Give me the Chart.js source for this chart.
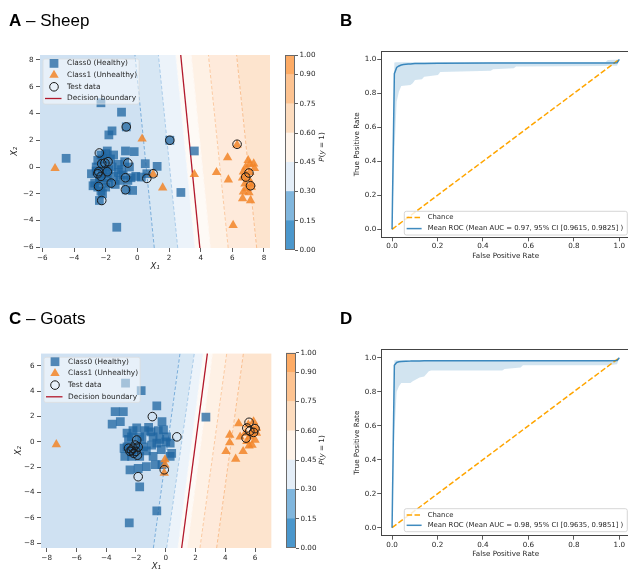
<!DOCTYPE html>
<html>
<head>
<meta charset="utf-8">
<title>Sheep and goats classifiers</title>
<script src="https://cdn.jsdelivr.net/npm/chart.js@4.4.1/dist/chart.umd.min.js"></script>
<style>
  html, body { margin: 0; padding: 0; }
  body { width: 628px; height: 570px; overflow: hidden; position: relative; background: #fff; }
  canvas { position: absolute; }
  .ptitle { position: absolute; font-family: 'Liberation Sans', Arial, sans-serif; font-size: 17px; line-height: 17px; color: #000; white-space: nowrap; }
  .cblabel { position: absolute; font-family: 'DejaVu Sans', sans-serif; font-size: 7.2px; color: #262626; white-space: nowrap; transform: translate(-50%, -50%) rotate(-90deg); }
</style>
</head>
<body>
<canvas id="sheepScatter" width="280" height="280" style="left:0;top:0"></canvas>
<canvas id="sheepColorbar" width="48" height="280" style="left:280px;top:0"></canvas>
<canvas id="sheepRoc" width="310" height="280" style="left:330px;top:0"></canvas>
<canvas id="goatScatter" width="280" height="290" style="left:0;top:290px"></canvas>
<canvas id="goatColorbar" width="48" height="290" style="left:280px;top:290px"></canvas>
<canvas id="goatRoc" width="310" height="280" style="left:330px;top:290px"></canvas>

<div class="ptitle" style="left:9px;top:12px"><b>A</b> – Sheep</div>
<div class="ptitle" style="left:340px;top:12px"><b>B</b></div>
<div class="ptitle" style="left:9px;top:310px"><b>C</b> – Goats</div>
<div class="ptitle" style="left:340px;top:310px"><b>D</b></div>
<div class="cblabel" style="left:321px;top:147px"><i>P</i>(<i>y</i> = 1)</div>
<div class="cblabel" style="left:321px;top:450px"><i>P</i>(<i>y</i> = 1)</div>

<script>
// probability levels of the filled contours and the colorbar
const colorbarTicks = [0, 0.15, 0.30, 0.45, 0.60, 0.75, 0.90, 1.00];
const colorbarColors = ['#4b97cc', '#80b6dd', '#e4eef8', '#fef3e9', '#fddcbe', '#fdc391', '#fdab65'];
const contourLevels = [0.15, 0.30, 0.45, 0.60, 0.75, 0.90];
const bandColors = ['#cfe1f2', '#d7e7f4', '#ecf3fa', '#fefaf6', '#fef1e5', '#feeadb', '#fde4ce'];
const contourLineColors = ['#7aaedb', '#a9cbe9', '#f1f6fb', '#fef5ee', '#fbcaa2', '#f9bf90'];

// sheep: contour lines as x at the top and bottom of the plot, decision boundary (top, bottom)
const sheepXRange = [-6.15, 8.38];
const sheepYRange = [-6.05, 8.37];
const sheepXTicks = [-6, -4, -2, 0, 2, 4, 6, 8];
const sheepYTicks = [-6, -4, -2, 0, 2, 4, 6, 8];
const sheepContourTop = [-0.15, 1.33, 2.41, 3.41, 4.49, 6.27];
const sheepContourBottom = [1.07, 2.55, 3.62, 4.62, 5.74, 7.54];
const sheepBoundary = [2.74, 3.95];

const sheepHealthy = [
  [-2.3, 4.8], [-1.0, 4.1], [-0.7, 3.0], [-1.6, 2.7], [-1.8, 2.4], [2.05, 2.0], [3.6, 1.2], [-4.5, 0.65],
  [2.75, -1.9], [-1.3, -4.5], [-0.3, -1.75], [1.25, 0.05], [0.5, 0.25], [-0.2, 1.15], [-0.75, 1.2], [-1.9, 1.2],
  [-2.0, 1.0], [-2.3, 0.9], [-2.5, 0.5], [-2.2, 0.6], [-1.7, 0.6], [-1.5, 0.9], [-1.2, 0.2], [-1.0, -0.2],
  [-0.8, 0.4], [-0.5, 0.0], [-0.4, -0.8], [-0.1, -0.7], [0.25, -0.75], [0.6, -0.5], [-0.6, -1.0], [-1.1, -1.0],
  [-1.5, -0.7], [-1.8, -0.2], [-2.0, -0.5], [-2.2, -0.2], [-2.4, -0.8], [-2.6, -0.3], [-2.7, -1.2], [-2.8, -1.4],
  [-2.5, -1.5], [-2.3, -1.8], [-2.2, -2.0], [-2.0, -1.5], [-1.8, -1.2], [-1.4, -1.3], [-2.4, -2.5], [-2.6, 0.0],
  [-2.3, -1.0], [-1.6, 0.0], [-2.9, -0.5], [-1.2, -0.4], [-0.9, -0.6], [-2.1, 0.1], [-1.9, -0.8], [-0.7, -1.7]
];
const sheepUnhealthy = [
  [-5.2, -0.1], [0.3, 2.1], [1.0, -0.55], [1.6, -1.55], [3.6, -0.55], [5.0, -0.4], [5.7, 0.7], [5.75, -0.95],
  [6.3, 1.65], [6.05, -4.35], [7.0, 0.5], [7.35, 0.25], [7.1, 0.2], [6.85, 0.0], [7.4, -0.1], [6.7, -0.35],
  [7.1, -0.4], [6.9, -0.6], [6.65, -0.8], [7.0, -0.9], [7.2, -1.25], [6.8, -1.25], [6.9, -1.6], [7.05, -1.9],
  [6.7, -1.85], [6.65, -2.35], [7.15, -2.5], [7.2, -1.5]
];
const sheepTest = [
  [-2.4, 1.05], [-2.25, 0.25], [-2.05, 0.3], [-1.85, 0.4], [-2.5, -0.5], [-2.3, -0.7], [-2.45, -0.35],
  [-1.9, -0.35], [-2.45, -1.45], [-1.65, -1.2], [-0.75, -0.8], [-0.6, 0.3], [-0.75, -1.7], [0.6, -0.85],
  [1.0, -0.5], [-0.7, 3.0], [2.05, 2.0], [-2.25, -2.5], [6.3, 1.7], [6.85, -0.75], [7.05, -0.45], [7.15, -1.4]
];

// goats
const goatXRange = [-8.38, 7.12];
const goatYRange = [-8.38, 7.0];
const goatXTicks = [-8, -6, -4, -2, 0, 2, 4, 6];
const goatYTicks = [-8, -6, -4, -2, 0, 2, 4, 6];
const goatContourTop = [0.96, 1.92, 2.5, 3.15, 4.1, 5.22];
const goatContourBottom = [-0.83, 0.06, 0.8, 1.45, 2.3, 3.42];
const goatBoundary = [2.8, 1.07];

const goatHealthy = [
  [-2.7, 4.65], [-1.65, 4.05], [-0.6, 2.85], [-3.4, 2.4], [-2.85, 2.4], [-3.05, 1.6], [-3.6, 1.4], [-0.25, 1.6],
  [2.7, 1.95], [-1.95, 1.1], [-1.15, 1.15], [-0.15, 0.95], [-2.6, 0.7], [-2.3, 0.4], [-1.75, 0.4], [-0.85, 0.4],
  [0.05, 0.4], [0.3, -0.1], [-0.6, -0.1], [-2.6, -0.4], [-1.5, -0.4], [-0.95, -0.25], [-2.3, -1.15], [-2.75, -1.15],
  [-1.75, -1.15], [-0.85, -1.15], [0.4, -0.9], [0.3, -1.15], [-0.25, -1.8], [-0.7, -1.8], [-1.3, -1.95], [-2.4, -2.2],
  [-1.85, -2.1], [-1.75, -3.55], [-0.6, -5.45], [-2.45, -6.4], [-2.5, 0.2], [-2.0, -0.3], [-2.3, -0.8], [-1.9, -0.6],
  [-1.0, 0.8], [-0.5, 0.9], [0.0, 0.0], [-0.3, -0.6], [-1.3, -0.7], [-2.8, -0.5], [-1.6, 0.2], [-2.2, 0.9],
  [-1.4, 0.9], [-0.4, 0.2]
];
const goatUnhealthy = [
  [-7.35, -0.2], [-0.05, -1.4], [-0.05, -1.8], [-0.1, -2.45], [4.9, 1.45], [4.3, 0.55], [4.3, -0.05], [4.05, -0.75],
  [4.7, -1.35], [5.2, -0.75], [5.0, 0.4], [5.55, 1.35], [5.9, 0.95], [6.1, 0.7], [5.65, 0.4], [5.45, 0.05],
  [6.0, 0.15], [5.8, -0.25], [6.1, 1.1], [5.35, 0.7], [5.9, 1.6], [5.6, -0.3], [5.75, 0.6]
];
const goatTest = [
  [-0.9, 2.0], [0.75, 0.4], [-1.95, 0.15], [-2.05, -0.25], [-1.85, -0.4], [-2.2, -0.5], [-2.3, -0.65], [-2.0, -0.75],
  [-1.9, -1.05], [-2.4, -0.75], [-2.5, -0.5], [-2.15, -0.9], [-1.85, -2.75], [-0.1, -2.2], [5.6, 1.55], [5.45, 1.1],
  [6.0, 1.05], [5.9, 0.75], [5.4, 0.3], [5.65, 0.85]
];

// ROC curves
const rocTicks = [0, 0.2, 0.4, 0.6, 0.8, 1.0];
const chanceFpr = [0, 1];
const chanceTpr = [0, 1];

const sheepFpr = [0, 0.0101, 0.0202, 0.0303, 0.0404, 0.0505, 0.0707, 0.0808, 0.0909, 0.101, 0.1313,
  0.1414, 0.202, 0.2121, 0.4343, 0.4444, 0.5354, 0.5455, 0.9394, 0.9495, 0.9899, 1.0];
const sheepTprMean = [0, 0.915, 0.952, 0.961, 0.966, 0.969, 0.972, 0.973, 0.974, 0.975, 0.976,
  0.976, 0.977, 0.977, 0.978, 0.978, 0.978, 0.978, 0.978, 0.978, 0.979, 1.0];
const sheepTprLow = [0, 0.45, 0.75, 0.81, 0.843, 0.845, 0.847, 0.849, 0.859, 0.878, 0.882,
  0.898, 0.908, 0.925, 0.933, 0.941, 0.947, 0.957, 0.96, 0.962, 0.962, 1.0];
const sheepTprHigh = [0, 0.981, 0.982, 0.983, 0.983, 0.983, 0.983, 0.983, 0.983, 0.983, 0.983,
  0.983, 0.983, 0.983, 0.983, 0.983, 0.983, 0.983, 0.983, 0.996, 0.997, 1.0];

const goatFpr = [0, 0.0101, 0.0202, 0.0303, 0.0404, 0.0808, 0.0909, 0.1212, 0.1414, 0.1616, 0.1717,
  0.4848, 0.4949, 0.5657, 0.5758, 0.9495, 0.9899, 1.0];
const goatTprMean = [0, 0.955, 0.972, 0.976, 0.978, 0.980, 0.981, 0.981, 0.982, 0.982, 0.982,
  0.982, 0.982, 0.982, 0.982, 0.982, 0.983, 1.0];
const goatTprLow = [0, 0.55, 0.80, 0.832, 0.851, 0.851, 0.861, 0.884, 0.89, 0.92, 0.924,
  0.924, 0.934, 0.943, 0.955, 0.955, 0.962, 1.0];
const goatTprHigh = [0, 0.985, 0.985, 0.985, 0.985, 0.985, 0.985, 0.985, 0.985, 0.985, 0.985,
  0.985, 0.985, 0.985, 0.985, 0.985, 0.99, 1.0];

const FONT = "'DejaVu Sans', sans-serif";
const TEXT = '#262626';
Chart.defaults.font.family = FONT;
Chart.defaults.font.size = 7.2;
Chart.defaults.color = TEXT;
Chart.defaults.animation = false;
Chart.defaults.events = [];
Chart.defaults.plugins.legend.display = false;
Chart.defaults.plugins.tooltip.enabled = false;

// outline around the plot area
const frame = {
  id: 'frame',
  afterDatasetsDraw(chart, args, opts) {
    if (!opts.color) return;
    const { ctx, chartArea: a } = chart;
    ctx.save();
    ctx.strokeStyle = opts.color;
    ctx.lineWidth = opts.width || 1;
    ctx.strokeRect(Math.round(a.left) + 0.5, Math.round(a.top) + 0.5,
      Math.round(a.right - a.left) - 1, Math.round(a.bottom - a.top) - 1);
    ctx.restore();
  }
};

// matplotlib style legend box inside the plot
const boxLegend = {
  id: 'boxLegend',
  afterDraw(chart, args, o) {
    if (!o.items) return;
    const { ctx, chartArea } = chart;
    const sets = chart.data.datasets;
    ctx.save();
    ctx.font = `${o.fontSize}px ${FONT}`;
    const textW = Math.max(...o.items.map(it => ctx.measureText(sets[it.index].label).width));
    const w = o.textX + textW + o.padRight;
    const h = o.padTop + o.rowHeight * (o.items.length - 1) + o.padBottom;
    const x = o.align === 'right' ? chartArea.right - o.dx - w : chartArea.left + o.dx;
    const y = o.valign === 'bottom' ? chartArea.bottom - o.dy - h : chartArea.top + o.dy;
    const r = 2;
    ctx.beginPath();
    ctx.moveTo(x + r, y);
    ctx.arcTo(x + w, y, x + w, y + h, r);
    ctx.arcTo(x + w, y + h, x, y + h, r);
    ctx.arcTo(x, y + h, x, y, r);
    ctx.arcTo(x, y, x + w, y, r);
    ctx.closePath();
    ctx.fillStyle = o.background;
    ctx.fill();
    ctx.strokeStyle = o.border;
    ctx.lineWidth = 0.8;
    ctx.stroke();
    o.items.forEach((it, i) => {
      const ds = sets[it.index];
      const cy = y + o.padTop + i * o.rowHeight;
      ctx.save();
      if (it.kind === 'line') {
        ctx.strokeStyle = ds.borderColor;
        ctx.lineWidth = ds.borderWidth;
        ctx.setLineDash(ds.borderDash || []);
        ctx.beginPath();
        ctx.moveTo(x + o.lineStart, cy);
        ctx.lineTo(x + o.lineEnd, cy);
        ctx.stroke();
      } else {
        ctx.fillStyle = ds.backgroundColor;
        ctx.strokeStyle = ds.borderColor || 'rgba(0,0,0,0)';
        ctx.lineWidth = ds.borderWidth || 0;
        Chart.helpers.drawPoint(ctx, { pointStyle: ds.pointStyle, radius: ds.pointRadius, borderWidth: ds.borderWidth || 0, rotation: 0 },
          x + o.markerX, cy);
      }
      ctx.restore();
      ctx.fillStyle = TEXT;
      ctx.textBaseline = 'middle';
      ctx.textAlign = 'left';
      ctx.fillText(ds.label, x + o.textX, cy);
    });
    ctx.restore();
  }
};

Chart.register(frame, boxLegend);

const fixSize = (w, h) => s => {
  if (w != null) s.width = w;
  if (h != null) s.height = h;
  s.paddingLeft = s.paddingRight = s.paddingTop = s.paddingBottom = 0;
};
const setTicks = values => s => { s.ticks = values.map(v => ({ value: v })); };
const minus = v => (v < 0 ? '\u2212' : '') + Math.abs(v);
const tickMarks = len => ({ drawOnChartArea: false, drawTicks: true, tickLength: len, color: '#333', lineWidth: 0.8 });
const toXY = pts => pts.map(p => ({ x: p[0], y: p[1] }));

function scatterChart(id, cfg) {
  const [xMin, xMax] = cfg.xRange;
  const [yMin, yMax] = cfg.yRange;
  // filled probability bands between the (straight) contour lines
  const bands = cfg.contourTop.map((xt, i) => ({
    type: 'line', indexAxis: 'y', label: 'P = ' + contourLevels[i].toFixed(2),
    data: [{ x: cfg.contourBottom[i], y: yMin }, { x: xt, y: yMax }],
    borderColor: contourLineColors[i], borderWidth: 1, borderDash: [3.5, 2],
    pointRadius: 0, backgroundColor: bandColors[i],
    fill: i === 0 ? { value: xMin } : '-1', order: 10
  }));
  const last = cfg.contourTop.length - 1;
  bands.push({
    type: 'line', indexAxis: 'y', label: 'P > 0.90',
    data: [{ x: cfg.contourBottom[last], y: yMin }, { x: cfg.contourTop[last], y: yMax }],
    borderColor: 'rgba(0,0,0,0)', borderWidth: 0, pointRadius: 0,
    backgroundColor: bandColors[last + 1], fill: { value: xMax }, order: 10
  });
  const n = bands.length;
  const datasets = bands.concat([
    { type: 'line', indexAxis: 'y', label: 'Decision boundary',
      data: [{ x: cfg.boundary[1], y: yMin }, { x: cfg.boundary[0], y: yMax }],
      borderColor: '#b2182b', borderWidth: 1.3, pointRadius: 0, fill: false, order: 5 },
    { type: 'scatter', label: 'Class0 (Healthy)', data: toXY(cfg.healthy), pointStyle: 'rect',
      pointRadius: 6.2, backgroundColor: 'rgba(30,100,160,0.75)', borderWidth: 0, order: 3 },
    { type: 'scatter', label: 'Class1 (Unhealthy)', data: toXY(cfg.unhealthy), pointStyle: 'triangle',
      pointRadius: 5.4, backgroundColor: 'rgba(242,133,40,0.85)', borderWidth: 0, order: 2 },
    { type: 'scatter', label: 'Test data', data: toXY(cfg.test), pointStyle: 'circle',
      pointRadius: 4.3, backgroundColor: 'rgba(0,0,0,0)', borderColor: '#1a1a1a', borderWidth: 1, order: 1 }
  ]);

  return new Chart(document.getElementById(id), {
    type: 'scatter',
    data: { datasets },
    options: {
      responsive: false,
      maintainAspectRatio: false,
      layout: { autoPadding: false, padding: cfg.padding },
      scales: {
        x: {
          type: 'linear', min: xMin, max: xMax,
          afterBuildTicks: setTicks(cfg.xTicks), afterFit: fixSize(null, cfg.xAxisHeight),
          ticks: { callback: minus, padding: 1.4, autoSkip: false, maxRotation: 0 },
          grid: tickMarks(4), border: { display: false },
          title: { display: true, text: 'X\u2081', font: { size: 8.5, style: 'italic' }, padding: { top: 0, bottom: 8.2 } }
        },
        y: {
          type: 'linear', min: yMin, max: yMax,
          afterBuildTicks: setTicks(cfg.yTicks), afterFit: fixSize(cfg.yAxisWidth, null),
          ticks: { callback: minus, padding: 2.5, autoSkip: false },
          grid: tickMarks(4), border: { display: false },
          title: { display: true, text: 'X\u2082', font: { size: 8.5, style: 'italic' }, padding: { top: cfg.yTitlePad, bottom: 0 } }
        }
      },
      plugins: {
        filler: { drawTime: 'beforeDatasetsDraw' },
        boxLegend: {
          items: [{ index: n + 1 }, { index: n + 2 }, { index: n + 3 }, { index: n, kind: 'line' }],
          fontSize: 7.4, dx: 3, dy: 4, padTop: 4.4, rowHeight: 11.7, padBottom: 5.6, padRight: 2,
          markerX: 11, textX: 24, lineStart: 2, lineEnd: 18.5,
          background: 'rgba(255,255,255,0.5)', border: 'rgba(220,220,220,0.9)'
        }
      }
    }
  });
}

function colorbarChart(id, cfg) {
  return new Chart(document.getElementById(id), {
    type: 'bar',
    data: {
      labels: [''],
      datasets: colorbarColors.map((c, i) => ({
        label: colorbarTicks[i].toFixed(2) + '–' + colorbarTicks[i + 1].toFixed(2),
        data: [[colorbarTicks[i], colorbarTicks[i + 1]]],
        backgroundColor: c, borderWidth: 0, barPercentage: 1, categoryPercentage: 1, grouped: false
      }))
    },
    options: {
      responsive: false,
      maintainAspectRatio: false,
      layout: { autoPadding: false, padding: cfg.padding },
      scales: {
        x: { display: false },
        y: {
          position: 'right', min: 0, max: 1,
          afterBuildTicks: setTicks(colorbarTicks), afterFit: fixSize(cfg.axisWidth, null),
          ticks: { callback: v => v.toFixed(2), padding: 1.5, autoSkip: false },
          grid: tickMarks(3), border: { display: false }
        }
      },
      plugins: { frame: { color: '#6a6a6a', width: 1 } }
    }
  });
}

function rocChart(id, cfg) {
  const pts = ys => cfg.fpr.map((x, i) => ({ x, y: ys[i] }));
  return new Chart(document.getElementById(id), {
    type: 'line',
    data: {
      datasets: [
        { label: 'lower', data: pts(cfg.low), borderColor: 'rgba(0,0,0,0)', borderWidth: 0, pointRadius: 0, fill: false, order: 3 },
        { label: '\u00b1 1 std. dev.', data: pts(cfg.high), borderColor: 'rgba(0,0,0,0)', borderWidth: 0, pointRadius: 0,
          fill: '-1', backgroundColor: 'rgba(31,119,180,0.2)', order: 3 },
        { label: 'Chance', data: chanceFpr.map((x, i) => ({ x, y: chanceTpr[i] })), borderColor: '#ffa500',
          borderWidth: 1.5, borderDash: [5.5, 2.4], pointRadius: 0, fill: false, order: 2 },
        { label: cfg.meanLabel, data: pts(cfg.mean), borderColor: 'rgba(31,119,180,0.85)', borderWidth: 1.5,
          pointRadius: 0, fill: false, order: 1 }
      ]
    },
    options: {
      responsive: false,
      maintainAspectRatio: false,
      layout: { autoPadding: false, padding: cfg.padding },
      scales: {
        x: {
          type: 'linear', min: -0.05, max: 1.05,
          afterBuildTicks: setTicks(rocTicks), afterFit: fixSize(null, cfg.xAxisHeight),
          ticks: { callback: v => v.toFixed(1), padding: 1, autoSkip: false, maxRotation: 0 },
          grid: tickMarks(3.5), border: { display: false },
          title: { display: true, text: 'False Positive Rate', padding: { top: 0, bottom: cfg.xTitlePad } }
        },
        y: {
          type: 'linear', min: -0.05, max: 1.05,
          afterBuildTicks: setTicks(rocTicks), afterFit: fixSize(50.7, null),
          ticks: { callback: v => v.toFixed(1), padding: 1, autoSkip: false },
          grid: tickMarks(3.5), border: { display: false },
          title: { display: true, text: 'True Positive Rate', padding: { top: 22.4, bottom: 0 } }
        }
      },
      plugins: {
        frame: { color: '#444', width: 1 },
        boxLegend: {
          items: [{ index: 2, kind: 'line' }, { index: 3, kind: 'line' }],
          align: 'right', valign: 'bottom', fontSize: 6.9, dx: 3.4, dy: cfg.legendDy,
          padTop: 6.3, rowHeight: cfg.legendRow, padBottom: 6.4, padRight: 4,
          markerX: 10, textX: 23.3, lineStart: 2.3, lineEnd: 17.3,
          background: 'rgba(255,255,255,0.8)', border: '#cccccc'
        }
      }
    }
  });
}

scatterChart('sheepScatter', {
  xRange: sheepXRange, yRange: sheepYRange, xTicks: sheepXTicks, yTicks: sheepYTicks,
  contourTop: sheepContourTop, contourBottom: sheepContourBottom, boundary: sheepBoundary,
  healthy: sheepHealthy, unhealthy: sheepUnhealthy, test: sheepTest,
  padding: { left: 0, top: 55, right: 10, bottom: 0 }, xAxisHeight: 32, yAxisWidth: 40, yTitlePad: 9.9
});
colorbarChart('sheepColorbar', { padding: { left: 5, top: 55, right: 0, bottom: 30 }, axisWidth: 33 });
rocChart('sheepRoc', {
  fpr: sheepFpr, mean: sheepTprMean, low: sheepTprLow, high: sheepTprHigh,
  meanLabel: 'Mean ROC (Mean AUC = 0.97, 95% CI [0.9615, 0.9825] )',
  padding: { left: 0, top: 50.8, right: 9.3, bottom: 0 }, xAxisHeight: 42.2, xTitlePad: 20,
  legendDy: 2.8, legendRow: 11
});

scatterChart('goatScatter', {
  xRange: goatXRange, yRange: goatYRange, xTicks: goatXTicks, yTicks: goatYTicks,
  contourTop: goatContourTop, contourBottom: goatContourBottom, boundary: goatBoundary,
  healthy: goatHealthy, unhealthy: goatUnhealthy, test: goatTest,
  padding: { left: 0, top: 63.3, right: 8.3, bottom: 0 }, xAxisHeight: 32, yAxisWidth: 41, yTitlePad: 13.2
});
colorbarChart('goatColorbar', { padding: { left: 6, top: 62.7, right: 0, bottom: 32 }, axisWidth: 32 });
rocChart('goatRoc', {
  fpr: goatFpr, mean: goatTprMean, low: goatTprLow, high: goatTprHigh,
  meanLabel: 'Mean ROC (Mean AUC = 0.98, 95% CI [0.9635, 0.9851] )',
  padding: { left: 0, top: 59.2, right: 9.3, bottom: 0 }, xAxisHeight: 33.8, xTitlePad: 11.7,
  legendDy: 4.5, legendRow: 10.3
});
</script>
</body>
</html>
